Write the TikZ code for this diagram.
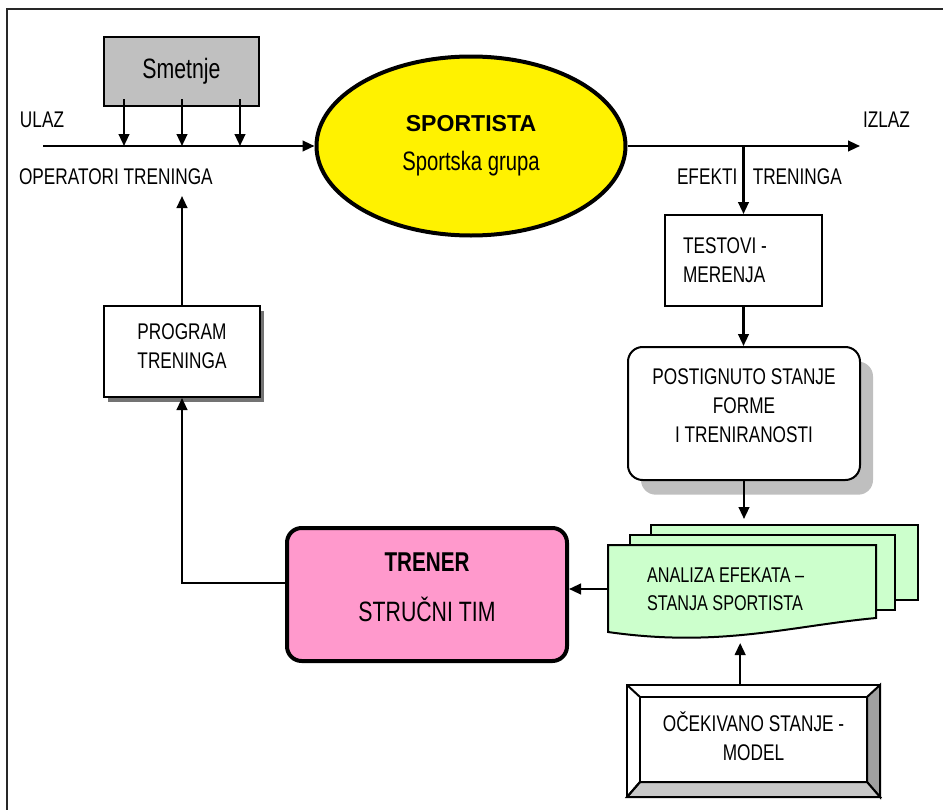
\documentclass[tikz,border=0pt]{standalone}
\usepackage{fontspec}
\setmainfont{Liberation Sans}[FakeStretch=0.76]
\newfontfamily\widefont{Liberation Sans}
\usetikzlibrary{arrows.meta,shapes.geometric,shadows}

\tikzset{every picture/.style={line width=1.5pt}}
\tikzset{
  flow/.style={-{Triangle[length=9pt,width=8pt]},line width=1.6pt},
  plain/.style={inner sep=0pt,font=\fontsize{17}{21.75}\selectfont},
  box/.style={draw,line width=1.5pt,fill=white},
  boxtext/.style={inner sep=0pt,align=center,font=\fontsize{17}{21.75}\selectfont},
  sheet/.style={draw,line width=1.5pt,fill={rgb,255:red,204;green,255;blue,204}}
}

\begin{document}
\begin{tikzpicture}[x=0.75pt,y=0.75pt,yscale=-1]
        \useasboundingbox (0,0) rectangle (943,810);

        %Frame
        \draw [color={rgb, 255:red, 40; green, 40; blue, 40 }] (7,815) -- (7,9) -- (948,9) ;

        %Smetnje
        \node [box,fill={rgb,255:red,192;green,192;blue,192},minimum width=116.25pt,minimum height=51.75pt,font=\fontsize{21}{24}\selectfont] (smetnje) at (181.5,71.5) {Smetnje};

        %Sportista
        \node [ellipse,draw,line width=3pt,fill=yellow,minimum width=231.75pt,minimum height=134.25pt,align=center,font=\fontsize{20}{29.25}\selectfont] (sport) at (471,146) {{\widefont\bfseries\fontsize{17.3}{29.25}\selectfont SPORTISTA}\\Sportska grupa};

        %Ulaz / izlaz
        \coordinate (ulaz) at (43,146);
        \coordinate (izlaz) at (860,146);
        \draw [flow] (ulaz) -- (sport);
        \draw [flow] (sport) -- (izlaz);
        \foreach \x [count=\i] in {124,182,240} {
          \coordinate (dist\i) at (\x,146);
          \draw [flow] ([yshift=-6pt]smetnje.south -| dist\i) -- (dist\i);
        }

        %Labels
        \node [plain,anchor=west] (ulaztxt) at (19,120) {ULAZ};
        \node [plain,anchor=west] (optxt) at (18,177) {OPERATORI TRENINGA};
        \node [plain,anchor=west] (izlaztxt) at (862,120) {IZLAZ};
        \node [plain,anchor=west] (eftxt) at (676,177) {EFEKTI\hspace{8pt} TRENINGA};

        %Program treninga
        \node [box,minimum width=117pt,minimum height=68.25pt,drop shadow={shadow xshift=3pt,shadow yshift=-3.5pt,fill=black!55,opacity=1}] (program) at (182,351.5) {};
        \node [boxtext] (programtxt) at ([yshift=-4pt]program.center) {PROGRAM\\TRENINGA};

        %Testovi
        \node [box,align=flush left,text width=90.75pt,inner xsep=13.5pt,minimum height=68.25pt,font=\fontsize{17}{21.75}\selectfont] (testovi) at (743.5,260.5) {TESTOVI -\\MERENJA};

        %Postignuto stanje
        \node [box,rounded corners=11pt,minimum width=174pt,minimum height=99.75pt,drop shadow={shadow xshift=9.75pt,shadow yshift=-11pt,fill=black!25,opacity=1}] (postignuto) at (744,413.5) {};
        \node [boxtext] (postignutotxt) at ([yshift=-5.5pt]postignuto.center) {POSTIGNUTO STANJE\\FORME\\I TRENIRANOSTI};

        %Trener
        \node [draw,line width=3pt,rounded corners=11pt,fill={rgb,255:red,255;green,153;blue,204},minimum width=210pt,minimum height=99.75pt] (trener) at (427,594.5) {};
        \node [boxtext,font=\fontsize{21}{37.5}\selectfont] (trenertxt) at ([yshift=-5.5pt]trener.center) {{\bfseries\fontsize{20.4}{37.5}\selectfont TRENER}\\STRUČNI TIM};

        %Analiza efekata
        \draw [sheet] (651,525) rectangle (918,600) ;
        \draw [sheet] (630,535) rectangle (895,610) ;
        \draw [sheet] (608,545) -- (876,545) -- (876,618) .. controls (790,626) and (720,648) .. (608,632) -- cycle ;
        \node [plain,align=flush left,text width=142.5pt,inner xsep=29.25pt,minimum height=66pt,font=\fontsize{16}{21}\selectfont] (analiza) at (742,589) {ANALIZA EFEKATA –\\STANJA SPORTISTA};

        %Ocekivano stanje
        \node [box,minimum width=189.75pt,minimum height=84pt] (ocekivano) at (753.5,741) {};
        \draw [fill={rgb, 255:red, 160; green, 160; blue, 160 }] (880,685) -- (880,797) -- (867,782) -- (867,697) -- cycle ;
        \draw [fill={rgb, 255:red, 200; green, 200; blue, 200 }] (627,797) -- (880,797) -- (867,782) -- (640,782) -- cycle ;
        \draw (640,697) rectangle (867,782) ;
        \draw (627,685) -- (640,697) ;
        \draw (627,797) -- (640,782) ;
        \node [boxtext] (ocekivanotxt) at ([yshift=-3.75pt]ocekivano.center) {OČEKIVANO STANJE -\\MODEL};

        %Connectors
        \draw [flow] (testovi.north |- sport.east) -- (testovi.north);
        \draw [flow] (testovi.south) -- (testovi.south |- postignuto.north);
        \draw [flow] (postignuto.south) -- ([yshift=-18.75pt]postignuto.south |- analiza.north);
        \draw [flow] ([xshift=-10pt]ocekivano.north) -- ([xshift=-10pt,yshift=6.75pt]ocekivano.north |- analiza.south);
        \draw [flow] (analiza.west) -- (analiza.west -| trener.east);
        \draw [flow] ([yshift=-8.6pt]trener.west) -| (program.south);
        \draw [flow] (program.north) -- ([yshift=7.5pt]program.north |- optxt.south);

        \end{tikzpicture}
\end{document}
